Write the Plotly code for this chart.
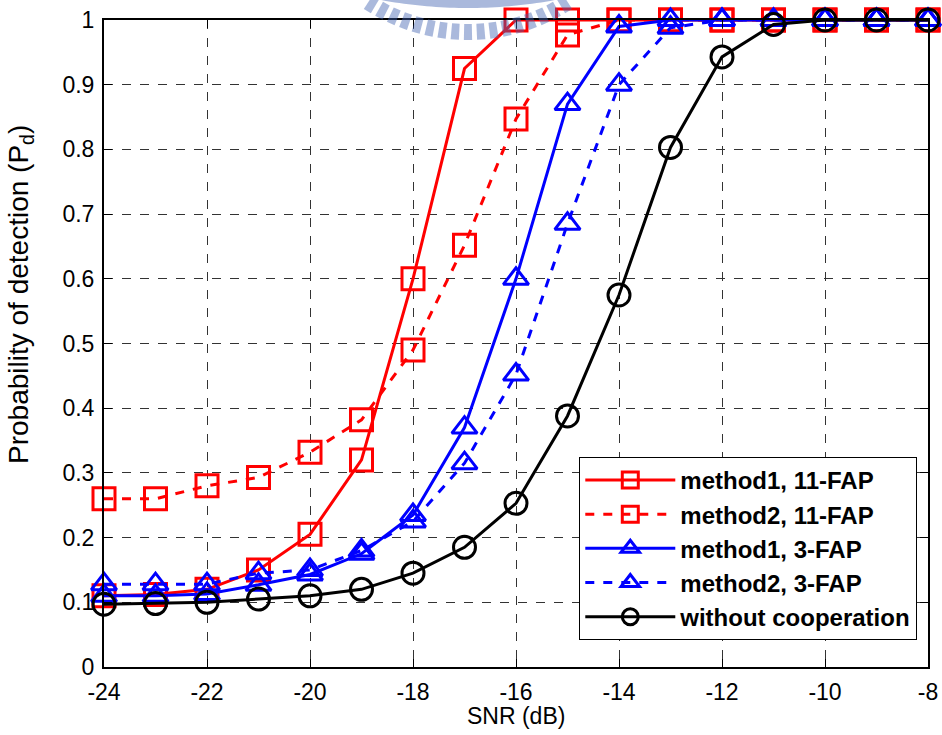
import math
import plotly.graph_objects as go

snr = [-24, -23, -22, -21, -20, -19, -18, -17, -16, -15, -14, -13, -12, -11, -10, -9, -8]

m1_11fap = [0.11, 0.112, 0.12, 0.15, 0.205, 0.32, 0.60, 0.925, 1.0, 1.0, 1.0, 1.0, 1.0, 1.0, 1.0, 1.0, 1.0]
m2_11fap = [0.26, 0.26, 0.28, 0.293, 0.332, 0.382, 0.49, 0.652, 0.847, 0.977, 1.0, 1.0, 1.0, 1.0, 1.0, 1.0, 1.0]
m1_3fap = [0.11, 0.11, 0.113, 0.127, 0.143, 0.175, 0.235, 0.37, 0.60, 0.87, 0.99, 1.0, 1.0, 1.0, 1.0, 1.0, 1.0]
m2_3fap = [0.128, 0.128, 0.128, 0.145, 0.15, 0.18, 0.225, 0.315, 0.452, 0.685, 0.90, 0.988, 1.0, 1.0, 1.0, 1.0, 1.0]
no_coop = [0.097, 0.098, 0.1, 0.105, 0.11, 0.12, 0.145, 0.185, 0.253, 0.388, 0.575, 0.803, 0.943, 0.993, 1.0, 1.0, 1.0]

x_ticks = list(range(-24, -7, 2))
x_tick_text = [str(v) for v in x_ticks]
y_ticks = [i / 10 for i in range(11)]
y_tick_text = ["0", "0.1", "0.2", "0.3", "0.4", "0.5", "0.6", "0.7", "0.8", "0.9", "1"]

series = [
    ("method1, 11-FAP", m1_11fap, "#ff0000", "solid", "square-open"),
    ("method2, 11-FAP", m2_11fap, "#ff0000", "dash", "square-open"),
    ("method1, 3-FAP", m1_3fap, "#0000ff", "solid", "triangle-up-open"),
    ("method2, 3-FAP", m2_3fap, "#0000ff", "dash", "triangle-up-open"),
    ("without cooperation", no_coop, "#000000", "solid", "circle-open"),
]

W, H = 942, 735
ML, MR, MT, MB = 104, 14, 20, 68
PW, PH = W - ML - MR, H - MT - MB
FONT = "Liberation Sans, Arial, Helvetica, sans-serif"

fig = go.Figure()
for name, vals, color, dash, sym in series:
    fig.add_trace(go.Scatter(
        x=snr, y=vals, name=name, mode="lines+markers",
        line=dict(color=color, width=3, dash=dash),
        marker=dict(symbol=sym, size=22, color=color, line=dict(color=color, width=3)),
        cliponaxis=False,
    ))

axis_common = dict(
    showgrid=True, gridcolor="#333333", griddash="dash", gridwidth=1,
    showline=True, linecolor="black", linewidth=2, mirror="ticks",
    ticks="inside", ticklen=8, tickcolor="black", tickwidth=1,
    zeroline=False, automargin=False,
    tickfont=dict(family=FONT, size=23, color="black"),
)

fig.update_xaxes(
    range=[-24, -8], tickmode="array", tickvals=x_ticks, ticktext=x_tick_text,
    ticklabelstandoff=3,
    **axis_common,
)
fig.update_yaxes(
    range=[0, 1], tickmode="array", tickvals=y_ticks, ticktext=y_tick_text,
    ticklabelstandoff=3,
    **axis_common,
)

# axis labels as annotations
fig.add_annotation(
    text="SNR (dB)",
    xref="paper", yref="paper", x=0.5, y=(H - MB - 716) / PH,
    xanchor="center", yanchor="middle", showarrow=False,
    font=dict(family=FONT, size=23, color="black"),
)
fig.add_annotation(
    text="Probability of detection (P<sub>d</sub>)",
    xref="paper", yref="paper", x=(21 - ML) / PW, y=0.575,
    xanchor="center", yanchor="middle", textangle=-90, showarrow=False,
    font=dict(family=FONT, size=28, color="black"),
)


# faint emblem watermark printed over the top edge of the axes
def to_paper(px, py):
    return (px - ML) / PW, (H - MB - py) / PH


wm_color = "rgba(67,100,178,0.45)"
shapes = []
cx, cy = 468.0, -150.0
r_in, r_out = 174.0, 190.0
n_teeth = 17
span = 32.0
for k in range(n_teeth):
    a0 = -span + k * (2 * span / (n_teeth - 1))
    half = 1.25
    pts = []
    for r, a in ((r_in, a0 - half), (r_out, a0 - half), (r_out, a0 + half), (r_in, a0 + half)):
        t = math.radians(a)
        pts.append(to_paper(cx + r * math.sin(t), cy + r * math.cos(t)))
    path = "M " + " L ".join(f"{x:.5f},{y:.5f}" for x, y in pts) + " Z"
    shapes.append(dict(type="path", path=path, xref="paper", yref="paper",
                       fillcolor=wm_color, line=dict(width=0), layer="above"))

bcx, bcy = 468.0, -470.0
b_in, b_out = 462.0, 478.0
arc = []
for i in range(41):
    a = -11.0 + i * 22.0 / 40
    t = math.radians(a)
    arc.append(to_paper(bcx + b_out * math.sin(t), bcy + b_out * math.cos(t)))
for i in range(41):
    a = 11.0 - i * 22.0 / 40
    t = math.radians(a)
    arc.append(to_paper(bcx + b_in * math.sin(t), bcy + b_in * math.cos(t)))
band_path = "M " + " L ".join(f"{x:.5f},{y:.5f}" for x, y in arc) + " Z"
shapes.append(dict(type="path", path=band_path, xref="paper", yref="paper",
                   fillcolor=wm_color, line=dict(width=0), layer="above"))

fig.update_layout(
    width=W, height=H,
    margin=dict(l=ML, r=MR, t=MT, b=MB),
    paper_bgcolor="white", plot_bgcolor="white",
    showlegend=True,
    shapes=shapes,
    legend=dict(
        x=0.987, y=0.042, xanchor="right", yanchor="bottom",
        bgcolor="white", bordercolor="black", borderwidth=1,
        font=dict(family=FONT, size=24, color="black", weight="bold"),
        itemwidth=90, tracegroupgap=2,
    ),
)

fig.write_html("out.html")
